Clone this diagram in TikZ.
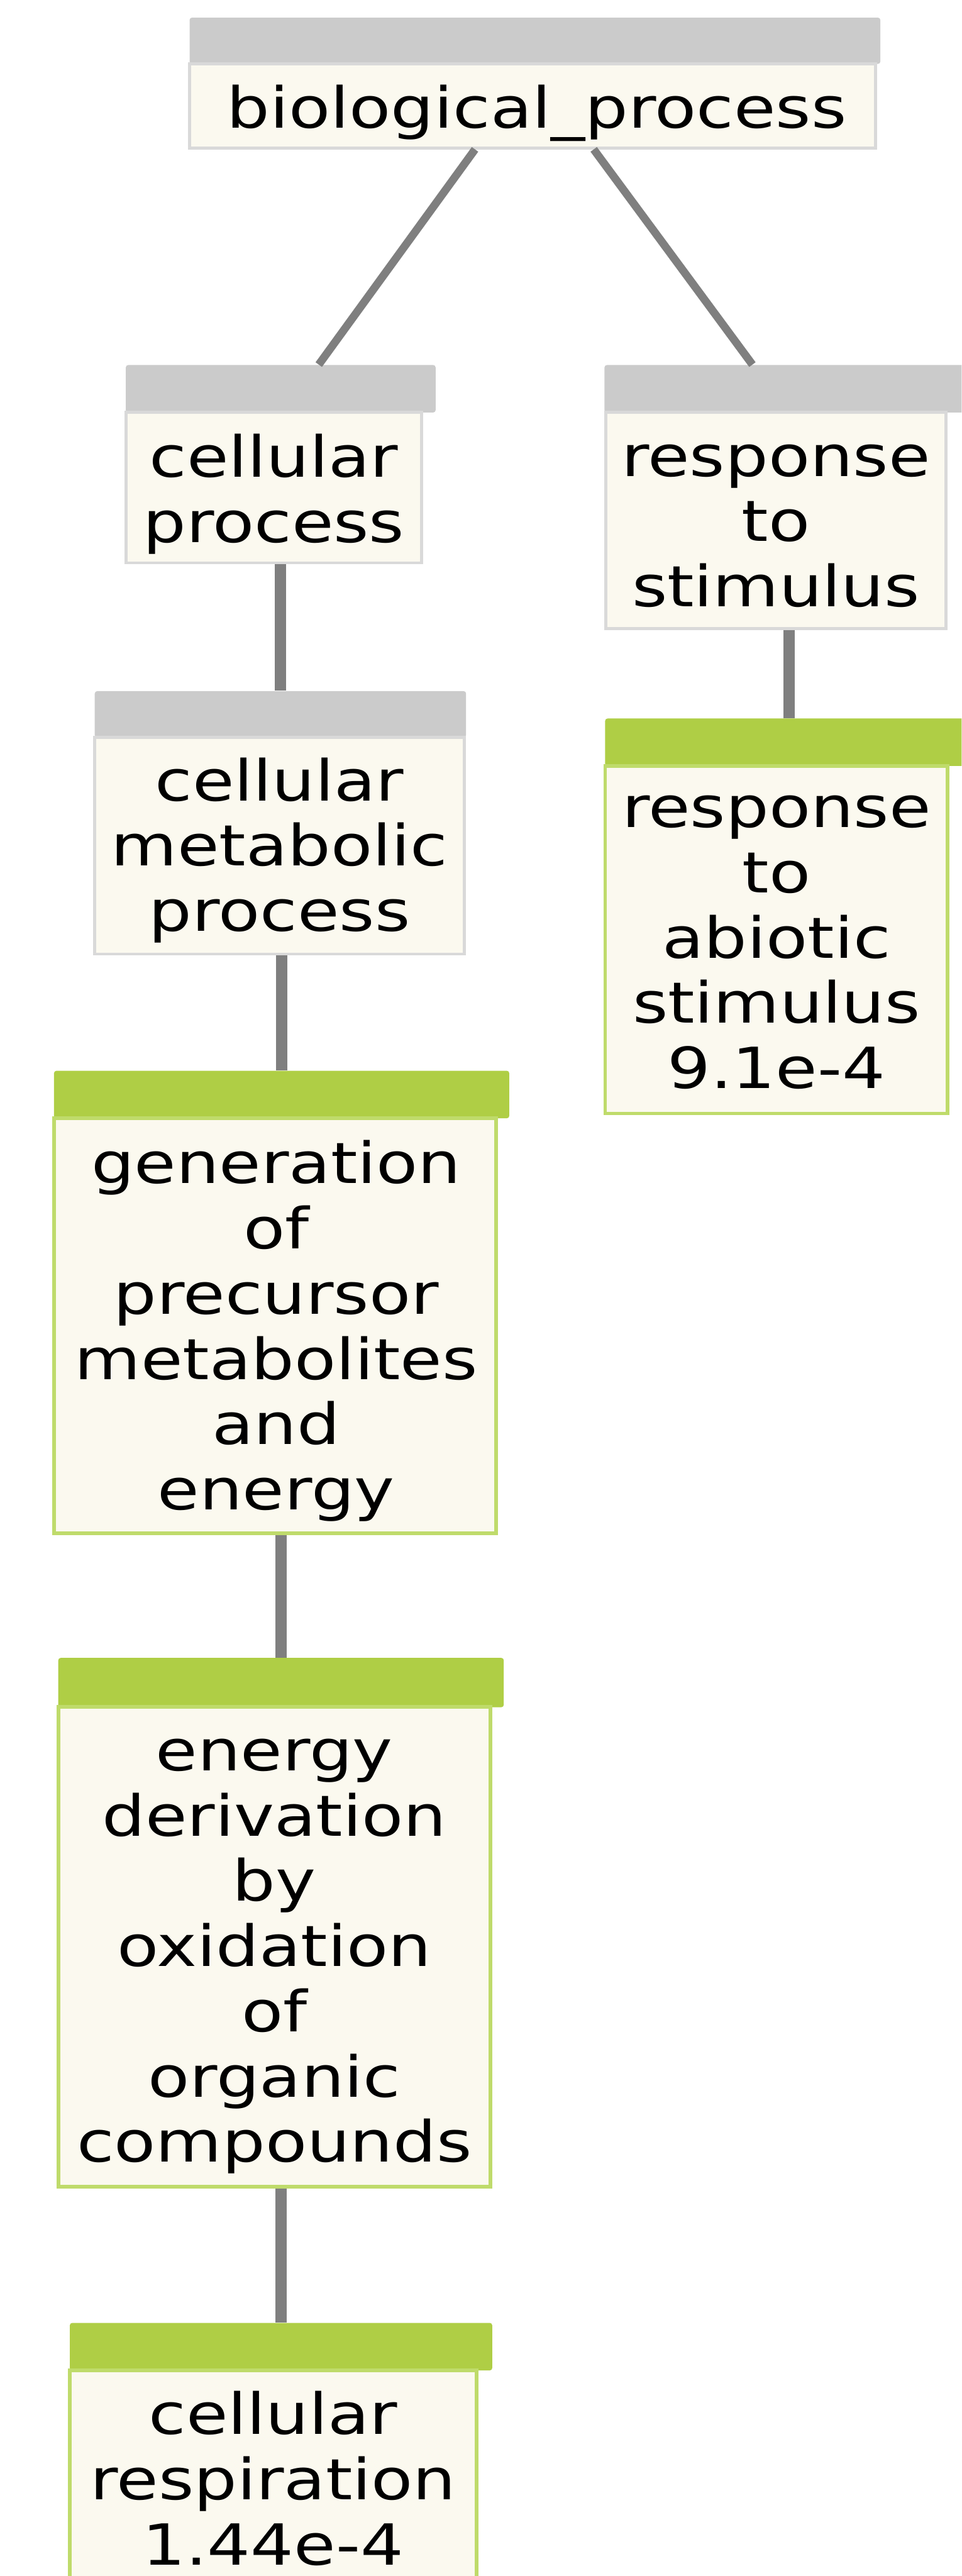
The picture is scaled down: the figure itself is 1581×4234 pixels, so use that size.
\documentclass[tikz,border=0pt]{standalone}
\usepackage{fontspec}
\newfontfamily\gofont[FakeStretch=1.2]{DejaVu Sans}
\usetikzlibrary{calc}
\definecolor{hgray}{HTML}{CBCBCB}
\definecolor{hgreen}{HTML}{AFCE45}
\definecolor{cream}{HTML}{FBF9EF}
\definecolor{bgray}{HTML}{D9D9D9}
\definecolor{bgreen}{HTML}{BFDB6B}
\definecolor{egray}{HTML}{7F7F7F}
\tikzset{
  hdrg/.style={rectangle, fill=hgray, draw=none, inner sep=0pt, rounded corners=0.04cm},
  hdrn/.style={rectangle, fill=hgreen, draw=none, inner sep=0pt, rounded corners=0.04cm},
  bodyg/.style={rectangle, fill=cream, draw=bgray, line width=0.05cm, inner sep=0pt},
  bodyn/.style={rectangle, fill=cream, draw=bgreen, line width=0.06cm, inner sep=0pt},
  lbl/.style={align=center, inner sep=0pt, text=black, font=\gofont\fontsize{26.5pt}{30.5pt}\selectfont},
  edge/.style={draw=egray, line width=0.19cm},
  diag/.style={draw=egray, line width=0.13cm}
}
\begin{document}
\begin{tikzpicture}[x=0.01cm, y=-0.01cm]
\useasboundingbox (0,0) rectangle (1581,4234);
\clip (0,0) rectangle (1581,4234);
\fill[white] (0,0) rectangle (1581,4234);

% biological_process
\node[hdrg, minimum width=11.35cm, minimum height=0.76cm] (bp-h) at (879.5,67) {};
\node[bodyg, minimum width=11.27cm, minimum height=1.38cm] (bp) at (875.5,174) {};
\node[lbl] (bp-t) at (882,185.7) {biological\_process};

% cellular process
\node[hdrg, minimum width=5.09cm, minimum height=0.78cm] (cp-h) at (461.5,639) {};
\node[bodyg, minimum width=4.86cm, minimum height=2.47cm] (cp) at (450,801.5) {};
\node[lbl] (cp-t) at (450,812) {cellular\\process};

% response to stimulus
\node[hdrg, minimum width=6.06cm, minimum height=0.78cm] (rs-h) at (1297,639) {};
\node[bodyg, minimum width=5.59cm, minimum height=3.55cm] (rs) at (1275.5,855.5) {};
\node[lbl] (rs-t) at (1275.5,864.5) {response\\to\\stimulus};

% cellular metabolic process
\node[hdrg, minimum width=6.10cm, minimum height=0.76cm] (cm-h) at (461,1174) {};
\node[bodyg, minimum width=6.07cm, minimum height=3.56cm] (cm) at (459.5,1390) {};
\node[lbl] (cm-t) at (459.5,1397.6) {cellular\\metabolic\\process};

% response to abiotic stimulus
\node[hdrn, minimum width=6.05cm, minimum height=0.78cm] (ra-h) at (1297.5,1220) {};
\node[bodyn, minimum width=5.63cm, minimum height=5.71cm] (ra) at (1276.5,1544.5) {};
\node[lbl] (ra-t) at (1276.5,1549) {response\\to\\abiotic\\stimulus\\9.1e-4};

% generation of precursor metabolites and energy
\node[hdrn, minimum width=7.48cm, minimum height=0.78cm] (gen-h) at (463,1799) {};
\node[bodyn, minimum width=7.26cm, minimum height=6.82cm] (gen) at (452,2179) {};
\node[lbl] (gen-t) at (454,2187.6) {generation\\of\\precursor\\metabolites\\and\\energy};

% energy derivation by oxidation of organic compounds
\node[hdrn, minimum width=7.32cm, minimum height=0.81cm] (ed-h) at (462,2765.5) {};
\node[bodyn, minimum width=7.10cm, minimum height=7.88cm] (ed) at (451,3200) {};
\node[lbl] (ed-t) at (451,3215.5) {energy\\derivation\\by\\oxidation\\of\\organic\\compounds};

% cellular respiration
\node[hdrn, minimum width=6.94cm, minimum height=0.78cm] (cr-h) at (462,3857) {};
\node[bodyn, minimum width=6.68cm, minimum height=3.64cm] (cr) at (449,4078) {};
\node[lbl] (cr-t) at (449,4073.5) {cellular\\respiration\\1.44e-4};

% connectors
\draw[diag] ([xshift=-0.945cm]bp.south) -- ([xshift=0.625cm]cp-h.north);
\draw[diag] ([xshift=1.005cm]bp.south) -- ([xshift=-0.6cm]rs-h.north);
\draw[edge] (cp.south -| cm-h.north) -- (cm-h.north);
\draw[edge] (cm.south -| gen-h.north) -- (gen-h.north);
\draw[edge] (gen.south -| ed-h.north) -- (ed-h.north);
\draw[edge] (ed.south -| cr-h.north) -- (cr-h.north);
\draw[edge] (rs.south -| ra-h.north) -- (ra-h.north);
\end{tikzpicture}
\end{document}
